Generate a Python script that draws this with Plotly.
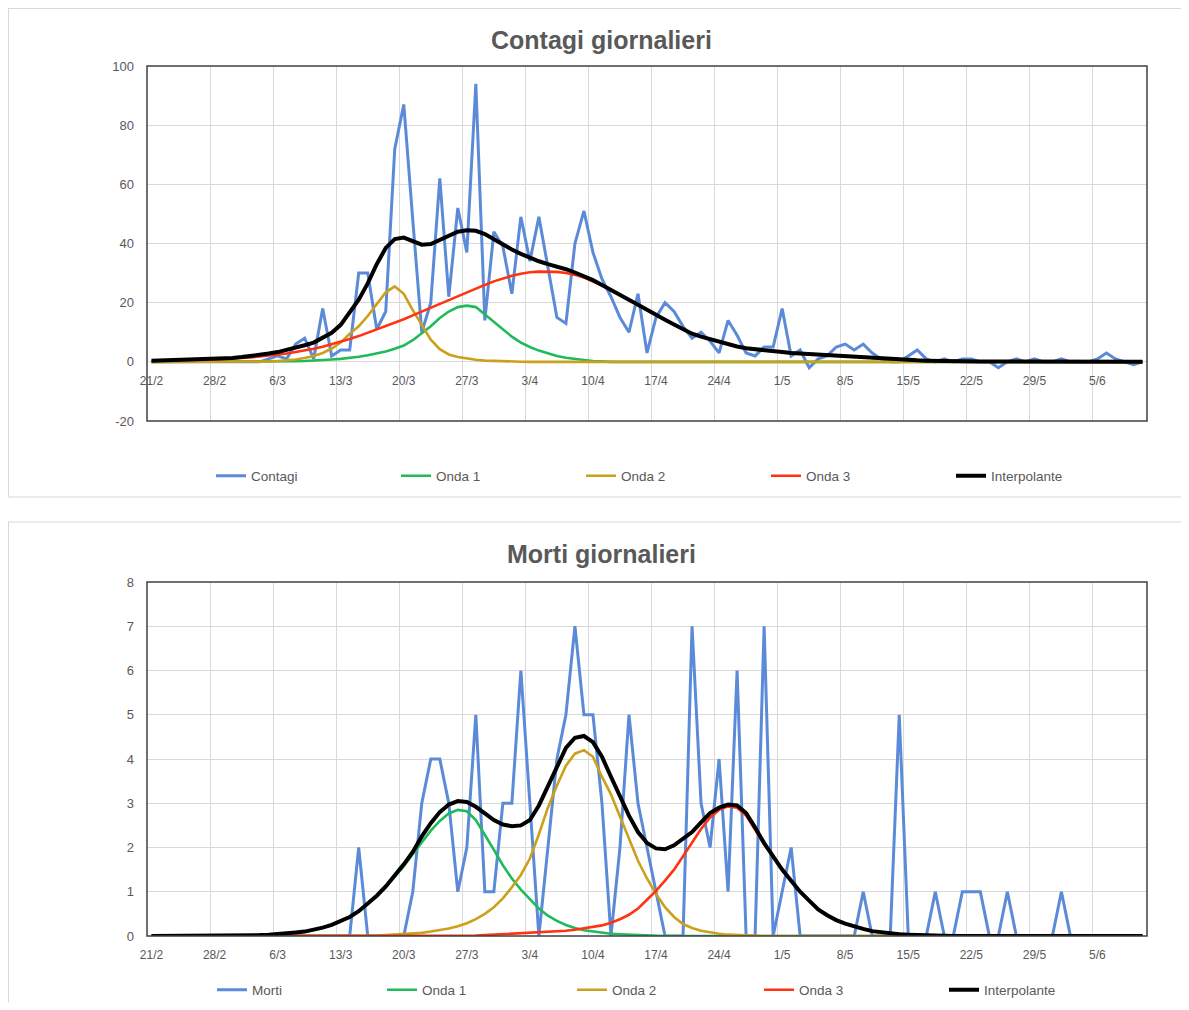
import pandas as pd
import plotly.graph_objects as go

# ---------------- data ----------------
giorni = [f"{d.day}/{d.month}" for d in pd.date_range("2020-02-21", "2020-06-10", freq="D")]

contagi = [0, 0, 0, 0, 0, 0, 0, 0, 0, 0,
           0, 0, 0, 1, 2, 1, 6, 8, 1, 18,
           2, 4, 4, 30, 30, 11, 17, 72, 87, 48,
           10, 20, 62, 22, 52, 37, 94, 14, 44, 39,
           23, 49, 34, 49, 32, 15, 13, 40, 51, 37,
           28, 22, 15, 10, 23, 3, 15, 20, 17, 12,
           8, 10, 7, 3, 14, 9, 3, 2, 5, 5,
           18, 2, 4, -2, 1, 2, 5, 6, 4, 6,
           3, 1, 0, 0, 2, 4, 1, 0, 1, 0,
           1, 1, 0, 0, -2, 0, 1, 0, 1, 0,
           0, 1, 0, 0, 0, 1, 3, 1, 0, -1, 0]
c_onda1 = [0, 0, 0, 0, 0, 0, 0, 0, 0, 0,
           0, 0, 0, 0, 0, 0.1, 0.2, 0.3, 0.4, 0.6,
           0.8, 1.0, 1.3, 1.7, 2.2, 2.8, 3.5, 4.4, 5.5, 7.3,
           9.5, 12, 14.8, 17, 18.5, 19, 18.5, 16, 13.4, 11,
           8.5, 6.5, 5, 3.8, 2.8, 2, 1.4, 0.9, 0.6, 0.3,
           0.1, 0, 0, 0, 0, 0, 0, 0, 0, 0,
           0, 0, 0, 0, 0, 0, 0, 0, 0, 0,
           0, 0, 0, 0, 0, 0, 0, 0, 0, 0,
           0, 0, 0, 0, 0, 0, 0, 0, 0, 0,
           0, 0, 0, 0, 0, 0, 0, 0, 0, 0,
           0, 0, 0, 0, 0, 0, 0, 0, 0, 0, 0]
c_onda2 = [0, 0, 0, 0, 0, 0, 0, 0, 0, 0,
           0, 0, 0, 0.1, 0.3, 0.5, 0.8, 1.3, 2, 3,
           4.5, 6.5, 9.5, 12, 15.5, 19.5, 23.5, 25.5, 23, 17.5,
           12.3, 7.5, 4.3, 2.5, 1.6, 1.1, 0.7, 0.4, 0.25, 0.15,
           0.1, 0.05, 0, 0, 0, 0, 0, 0, 0, 0,
           0, 0, 0, 0, 0, 0, 0, 0, 0, 0,
           0, 0, 0, 0, 0, 0, 0, 0, 0, 0,
           0, 0, 0, 0, 0, 0, 0, 0, 0, 0,
           0, 0, 0, 0, 0, 0, 0, 0, 0, 0,
           0, 0, 0, 0, 0, 0, 0, 0, 0, 0,
           0, 0, 0, 0, 0, 0, 0, 0, 0, 0, 0]
c_onda3 = [0.3, 0.35, 0.4, 0.5, 0.55, 0.6, 0.7, 0.8, 1.0, 1.1,
           1.3, 1.5, 1.8, 2.1, 2.4, 2.8, 3.3, 3.8, 4.4, 5.1,
           5.9, 6.8, 7.7, 8.7, 9.8, 10.9, 12.0, 13.2, 14.4, 15.7,
           17.0, 18.3, 19.7, 21.0, 22.3, 23.5, 24.8, 26.0, 27.2, 28.2,
           29.1, 29.8, 30.3, 30.5, 30.5, 30.4, 30.0, 29.4, 28.5, 27.3,
           25.9, 24.3, 22.6, 20.8, 19.2, 17.6, 15.8, 14.2, 12.6, 11.0,
           9.5, 8.5, 7.6, 6.7, 5.9, 5.2, 4.6, 4.2, 3.9, 3.6,
           3.3, 3.0, 2.8, 2.6, 2.4, 2.2, 2.0, 1.8, 1.6, 1.4,
           1.2, 1.0, 0.9, 0.7, 0.6, 0.5, 0.4, 0.3, 0.2, 0.2,
           0.1, 0.1, 0.1, 0.1, 0.1, 0.1, 0.1, 0.1, 0.1, 0.1,
           0.1, 0.1, 0.1, 0.1, 0.1, 0, 0, 0, 0, 0, 0]
c_interp = [0.4, 0.5, 0.5, 0.6, 0.7, 0.7, 0.8, 1.0, 1.1, 1.3,
            1.6, 1.9, 2.3, 2.8, 3.3, 4.0, 4.7, 5.6, 6.5, 8.0,
            9.8, 12.5, 16.5, 21.0, 26.5, 33.0, 38.5, 41.5, 42.0, 40.8,
            39.6, 39.8, 41.2, 42.8, 44.0, 44.5, 44.3, 43.2, 41.5, 39.5,
            38.0, 36.5, 35.2, 34.0, 33.0, 32.2, 31.3, 30.2, 29.0, 27.6,
            26.0, 24.4, 22.7, 21.0, 19.3, 17.6, 15.8, 14.2, 12.6, 11.0,
            9.5, 8.5, 7.6, 6.7, 5.9, 5.2, 4.6, 4.2, 3.9, 3.6,
            3.3, 3.0, 2.8, 2.6, 2.4, 2.2, 2.0, 1.8, 1.6, 1.4,
            1.2, 1.0, 0.9, 0.7, 0.6, 0.5, 0.4, 0.3, 0.3, 0.2,
            0.2, 0.1, 0.1, 0.1, 0.1, 0.1, 0.1, 0.1, 0.1, 0.1,
            0.1, 0.1, 0.1, 0.1, 0.1, 0, 0, 0, 0, 0, 0]

morti = [0, 0, 0, 0, 0, 0, 0, 0, 0, 0,
         0, 0, 0, 0, 0, 0, 0, 0, 0, 0,
         0, 0, 0, 2, 0, 0, 0, 0, 0, 1,
         3, 4, 4, 3, 1, 2, 5, 1, 1, 3,
         3, 6, 3, 0, 2, 4, 5, 7, 5, 5,
         3, 0, 2, 5, 3, 2, 1, 0, 0, 0,
         7, 3, 2, 4, 1, 6, 0, 0, 7, 0,
         1, 2, 0, 0, 0, 0, 0, 0, 0, 1,
         0, 0, 0, 5, 0, 0, 0, 1, 0, 0,
         1, 1, 1, 0, 0, 1, 0, 0, 0, 0,
         0, 1, 0, 0, 0, 0, 0, 0, 0, 0, 0]
m_onda1 = [0, 0, 0, 0, 0, 0, 0, 0, 0, 0,
           0.01, 0.01, 0.02, 0.03, 0.04, 0.06, 0.08, 0.1, 0.14, 0.19,
           0.25, 0.33, 0.43, 0.56, 0.72, 0.9, 1.1, 1.33, 1.58, 1.85,
           2.12, 2.38, 2.6, 2.77, 2.85, 2.82, 2.62, 2.3, 1.95, 1.6,
           1.3, 1.05, 0.83, 0.62, 0.46, 0.34, 0.25, 0.18, 0.13, 0.1,
           0.07, 0.05, 0.04, 0.03, 0.02, 0.02, 0.01, 0, 0, 0,
           0, 0, 0, 0, 0, 0, 0, 0, 0, 0,
           0, 0, 0, 0, 0, 0, 0, 0, 0, 0,
           0, 0, 0, 0, 0, 0, 0, 0, 0, 0,
           0, 0, 0, 0, 0, 0, 0, 0, 0, 0,
           0, 0, 0, 0, 0, 0, 0, 0, 0, 0, 0]
m_onda2 = [0, 0, 0, 0, 0, 0, 0, 0, 0, 0,
           0, 0, 0, 0, 0, 0, 0, 0, 0, 0,
           0, 0, 0, 0, 0.01, 0.01, 0.02, 0.03, 0.04, 0.05,
           0.07, 0.1, 0.13, 0.17, 0.22, 0.29, 0.38, 0.5, 0.65, 0.85,
           1.1, 1.38, 1.75, 2.3, 2.9, 3.4, 3.85, 4.12, 4.2, 4.05,
           3.6, 3.2, 2.7, 2.2, 1.7, 1.3, 0.95, 0.65, 0.43, 0.27,
           0.18, 0.12, 0.08, 0.05, 0.03, 0.02, 0.01, 0, 0, 0,
           0, 0, 0, 0, 0, 0, 0, 0, 0, 0,
           0, 0, 0, 0, 0, 0, 0, 0, 0, 0,
           0, 0, 0, 0, 0, 0, 0, 0, 0, 0,
           0, 0, 0, 0, 0, 0, 0, 0, 0, 0, 0]
m_onda3 = [0, 0, 0, 0, 0, 0, 0, 0, 0, 0,
           0, 0, 0, 0, 0, 0, 0, 0, 0, 0,
           0, 0, 0, 0, 0, 0, 0, 0, 0, 0,
           0, 0, 0, 0, 0, 0, 0.01, 0.02, 0.03, 0.04,
           0.05, 0.06, 0.07, 0.08, 0.09, 0.1, 0.12, 0.14, 0.17, 0.2,
           0.24, 0.3, 0.38, 0.48, 0.62, 0.82, 1.02, 1.25, 1.5, 1.8,
           2.1, 2.42, 2.68, 2.85, 2.93, 2.9, 2.72, 2.4, 2.08, 1.8,
           1.5, 1.25, 1.0, 0.8, 0.6, 0.47, 0.36, 0.28, 0.21, 0.16,
           0.11, 0.08, 0.06, 0.04, 0.03, 0.02, 0.01, 0, 0, 0,
           0, 0, 0, 0, 0, 0, 0, 0, 0, 0,
           0, 0, 0, 0, 0, 0, 0, 0, 0, 0, 0]
m_interp = [0, 0, 0, 0, 0, 0, 0, 0, 0, 0,
            0.01, 0.01, 0.02, 0.03, 0.04, 0.06, 0.08, 0.1, 0.14, 0.19,
            0.25, 0.33, 0.43, 0.56, 0.73, 0.91, 1.12, 1.36, 1.62, 1.9,
            2.25, 2.55, 2.8, 2.97, 3.05, 3.03, 2.92, 2.77, 2.62, 2.52,
            2.48, 2.5, 2.62, 2.95, 3.4, 3.85, 4.25, 4.48, 4.52, 4.38,
            4.05, 3.6, 3.15, 2.72, 2.35, 2.1, 1.98, 1.96, 2.05, 2.2,
            2.35, 2.57, 2.78, 2.9, 2.97, 2.95, 2.78, 2.45, 2.1, 1.8,
            1.5, 1.25, 1.0, 0.8, 0.6, 0.47, 0.36, 0.28, 0.21, 0.16,
            0.11, 0.08, 0.06, 0.04, 0.03, 0.02, 0.01, 0, 0, 0,
            0, 0, 0, 0, 0, 0, 0, 0, 0, 0,
            0, 0, 0, 0, 0, 0, 0, 0, 0, 0, 0]

nomi_top = ["Contagi", "Onda 1", "Onda 2", "Onda 3", "Interpolante"]
nomi_bot = ["Morti", "Onda 1", "Onda 2", "Onda 3", "Interpolante"]
tick_top = [-20, 0, 20, 40, 60, 80, 100]
tick_bot = [0, 1, 2, 3, 4, 5, 6, 7, 8]

# ---------------- style ----------------
W, H = 1173, 994          # the page body adds an 8px margin around the figure
colori = ["#5B8BD8", "#1FBA5A", "#CCA01A", "#FF3311", "#000000"]
spessori = [3, 2.6, 2.6, 2.6, 4]
larghezze_leg_bot = [125, 145, 142, 140, 140]
FONT = "Liberation Sans, Arial, sans-serif"
GREY = "#595959"


def px(r):  # reference-picture x pixel -> paper fraction
    return (r - 8) / W


def py(r):  # reference-picture y pixel -> paper fraction
    return 1 - (r - 8) / H


xdom = [px(147), px(1147)]
ydom_top = [py(421), py(66)]
ydom_bot = [py(936), py(582)]
top_range = [-20, 100]
zero_pos = ydom_top[0] + (0 - top_range[0]) / (top_range[1] - top_range[0]) * (ydom_top[1] - ydom_top[0])

fig = go.Figure()
for serie, nome, col, w in zip([contagi, c_onda1, c_onda2, c_onda3, c_interp], nomi_top, colori, spessori):
    fig.add_trace(go.Scatter(x=giorni, y=serie, name=nome, mode="lines",
                             line=dict(color=col, width=w), xaxis="x", yaxis="y",
                             legend="legend"))
for serie, nome, col, w, lw in zip([morti, m_onda1, m_onda2, m_onda3, m_interp], nomi_bot, colori,
                                   spessori, larghezze_leg_bot):
    fig.add_trace(go.Scatter(x=giorni, y=serie, name=nome, mode="lines",
                             line=dict(color=col, width=w), xaxis="x2", yaxis="y2",
                             legend="legend2", legendwidth=lw))

xcommon = dict(type="category", range=[-0.5, len(giorni) - 0.5], tickmode="linear", tick0=0, dtick=7,
               tickson="boundaries", showgrid=True, gridcolor="#D9D9D9", gridwidth=1,
               ticks="", showline=False, zeroline=False, domain=xdom, tickangle=0, automargin=False,
               tickfont=dict(family=FONT, size=12, color=GREY), ticklabelstandoff=10)
ycommon = dict(showgrid=True, gridcolor="#D9D9D9", gridwidth=1, zeroline=False, showline=False,
               ticks="", tickfont=dict(family=FONT, size=13, color=GREY), ticklabelstandoff=13,
               anchor="free", position=xdom[0], tickmode="array", automargin=False)

legcommon = dict(orientation="h", xanchor="left", yanchor="middle",
                 itemwidth=30, font=dict(family=FONT, size=13.5, color=GREY),
                 bgcolor="rgba(0,0,0,0)")

shapes = []
for yref in ["y", "y2"]:
    shapes.append(dict(type="rect", xref="x domain", yref=yref + " domain", x0=0, x1=1, y0=0, y1=1,
                       line=dict(color="#404040", width=1.5), layer="above"))
panel = dict(color="#D9D9D9", width=1)
shapes += [
    dict(type="line", xref="paper", yref="paper", x0=0, x1=1, y0=py(8.5), y1=py(8.5), line=panel),
    dict(type="line", xref="paper", yref="paper", x0=px(8.5), x1=px(8.5), y0=py(8.5), y1=py(497),
         line=panel),
    dict(type="line", xref="paper", yref="paper", x0=0, x1=1, y0=py(497), y1=py(497), line=panel),
    dict(type="line", xref="paper", yref="paper", x0=0, x1=1, y0=py(522), y1=py(522), line=panel),
    dict(type="line", xref="paper", yref="paper", x0=px(8.5), x1=px(8.5), y0=py(522), y1=0, line=panel),
]

fig.update_layout(
    width=W, height=H, margin=dict(l=0, r=0, t=0, b=0, autoexpand=False),
    paper_bgcolor="white", plot_bgcolor="white",
    xaxis=dict(xcommon, anchor="free", position=zero_pos),
    xaxis2=dict(xcommon, anchor="y2"),
    yaxis=dict(ycommon, domain=ydom_top, range=top_range,
               tickvals=tick_top, ticktext=[str(v) for v in tick_top]),
    yaxis2=dict(ycommon, domain=ydom_bot, range=[tick_bot[0], tick_bot[-1]],
                tickvals=tick_bot, ticktext=[str(v) for v in tick_bot]),
    legend=dict(legcommon, x=px(217 - 6), y=py(476), entrywidth=140, entrywidthmode="pixels"),
    legend2=dict(legcommon, x=px(217 - 5), y=py(990)),
    shapes=shapes,
    annotations=[
        dict(text="<b>Contagi giornalieri</b>", xref="paper", yref="paper", x=px(601), y=py(40),
             showarrow=False, xanchor="center", yanchor="middle",
             font=dict(family=FONT, size=25, color=GREY)),
        dict(text="<b>Morti giornalieri</b>", xref="paper", yref="paper", x=px(601), y=py(554),
             showarrow=False, xanchor="center", yanchor="middle",
             font=dict(family=FONT, size=25, color=GREY)),
    ],
    showlegend=True,
)

fig.write_html("out.html")
